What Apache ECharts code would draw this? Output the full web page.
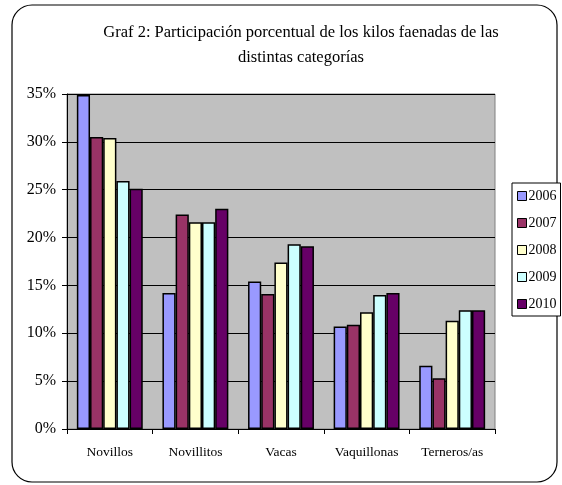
<!DOCTYPE html>
<html>
<head>
<meta charset="utf-8">
<script src="https://cdn.jsdelivr.net/npm/echarts@6/dist/echarts.min.js"></script>
<style>
  html, body { margin: 0; padding: 0; background: #fff; }
  #chart { width: 562px; height: 485px; }
</style>
</head>
<body>
<div id="chart"></div>
<script>
// categorias y participacion porcentual por año
const categorias = ['Novillos', 'Novillitos', 'Vacas', 'Vaquillonas', 'Terneros/as']
const anios = ['2006', '2007', '2008', '2009', '2010']
const v2006 = [34.9, 14.2, 15.4, 10.7, 6.6]
const v2007 = [30.5, 22.4, 14.1, 10.9, 5.3]
const v2008 = [30.4, 21.6, 17.4, 12.2, 11.3]
const v2009 = [25.9, 21.6, 19.3, 14.0, 12.4]
const v2010 = [25.1, 23.0, 19.1, 14.2, 12.4]
const colores = ['#9999FF', '#993366', '#FFFFCC', '#CCFFFF', '#660066']

const valores = [v2006, v2007, v2008, v2009, v2010]
const fuente = 'Liberation Serif'

const chart = echarts.init(document.getElementById('chart'))

const option = {
  animation: false,
  backgroundColor: '#fff',
  textStyle: { fontFamily: fuente, color: '#000' },
  graphic: [
    {
      type: 'rect',
      shape: { x: 12, y: 5, width: 545, height: 477, r: 20 },
      style: { fill: 'none', stroke: '#000', lineWidth: 1.2 },
      z: -1
    }
  ],
  title: {
    text: 'Graf 2: Participación porcentual de los kilos faenadas de las\ndistintas categorías',
    left: 296,
    top: 15,
    textAlign: 'center',
    textStyle: {
      fontFamily: fuente,
      fontSize: 16.5,
      fontWeight: 'normal',
      color: '#000',
      lineHeight: 25
    }
  },
  legend: {
    orient: 'vertical',
    left: 512,
    top: 183,
    width: 48,
    padding: [6, 4, 5, 5],
    itemGap: 13,
    itemWidth: 9,
    itemHeight: 9,
    borderColor: '#000',
    borderWidth: 1,
    backgroundColor: '#fff',
    textStyle: { fontFamily: fuente, fontSize: 14, color: '#000', padding: [0, 0, 0, -3] },
    data: anios.map(a => ({ name: a, icon: 'rect', itemStyle: { borderColor: '#000', borderWidth: 1 } }))
  },
  grid: {
    left: 67,
    top: 94,
    width: 428,
    height: 335,
    show: true,
    backgroundColor: '#C0C0C0',
    borderColor: '#808080',
    borderWidth: 1
  },
  xAxis: {
    type: 'category',
    data: categorias,
    axisLine: { lineStyle: { color: '#000', width: 1 } },
    axisTick: { show: true, length: 5, lineStyle: { color: '#000' } },
    axisLabel: { fontFamily: fuente, fontSize: 13.5, color: '#000', margin: 16 }
  },
  yAxis: {
    type: 'value',
    min: 0,
    max: 35,
    interval: 5,
    axisLine: { show: true, lineStyle: { color: '#000', width: 1 } },
    axisTick: { show: true, length: 5, lineStyle: { color: '#000' } },
    axisLabel: { fontFamily: fuente, fontSize: 16, color: '#000', margin: 11, formatter: '{value}%' },
    splitLine: { show: true, lineStyle: { color: '#000', width: 1 } }
  },
  series: anios.map((a, i) => ({
    name: a,
    type: 'bar',
    data: valores[i],
    barGap: '0%',
    barCategoryGap: '23%',
    itemStyle: { color: colores[i], borderColor: '#000', borderWidth: 1.5 }
  }))
}

chart.setOption(option)
</script>
</body>
</html>
